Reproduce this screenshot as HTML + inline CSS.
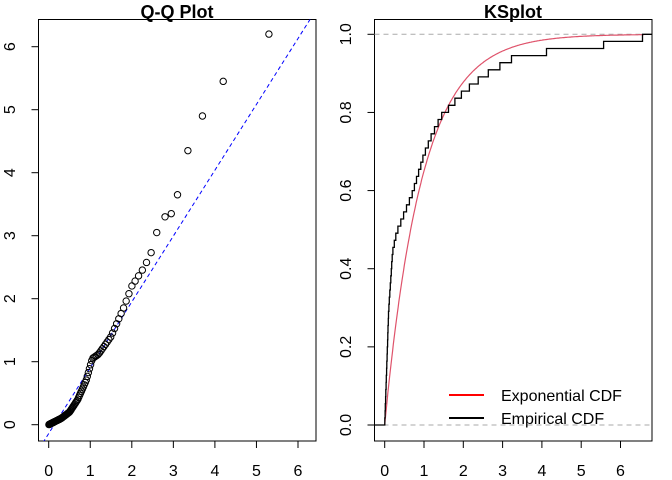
<!DOCTYPE html>
<html><head><meta charset="utf-8"><style>
body{margin:0;background:#fff}
svg{display:block;font-family:"Liberation Sans",Arial,sans-serif}
</style></head><body>
<svg id="s" width="672" height="480" viewBox="0 0 672 480" xmlns="http://www.w3.org/2000/svg">
<rect width="672" height="480" fill="#fff"/>
<defs>
<clipPath id="c1"><rect x="38.5" y="19.5" width="277.5" height="421.5"/></clipPath>
<clipPath id="c2"><rect x="374.5" y="19.5" width="277.5" height="421.5"/></clipPath>
</defs>
<text x="177" y="18" font-size="18" font-weight="bold" text-anchor="middle">Q-Q Plot</text>
<text x="513" y="18" font-size="18" font-weight="bold" text-anchor="middle">KSplot</text>
<rect x="38.5" y="19.5" width="277.5" height="421.5" fill="none" stroke="#000" stroke-width="1"/>
<rect x="374.5" y="19.5" width="277.5" height="421.5" fill="none" stroke="#000" stroke-width="1"/>
<g id="axes" stroke="#000" stroke-width="1" fill="none"></g>
<g id="labels" font-size="16" fill="#000"></g>
<g id="plot"></g>
<line x1="449" y1="395" x2="484" y2="395" stroke="#f00" stroke-width="2"/>
<line x1="449" y1="418" x2="484" y2="418" stroke="#000" stroke-width="2"/>
<text x="501" y="401" font-size="16">Exponential CDF</text>
<text x="501" y="424" font-size="16">Empirical CDF</text>
</svg>
<script>
var NS="http://www.w3.org/2000/svg";
function el(p,t,a,txt){var e=document.createElementNS(NS,t);for(var k in a)e.setAttribute(k,a[k]);if(txt!=null)e.textContent=txt;document.getElementById(p).appendChild(e);return e;}
var lx=function(v){return 48.7+41.55*v},ly=function(v){return 424.7-63*v};
var rx=function(v){return 384.7+39.3*v},ry=function(v){return 425-390.7*v};
el("axes","line",{x1:lx(0),y1:441,x2:lx(6),y2:441});
for(var i=0;i<=6;i++){el("axes","line",{x1:lx(i),y1:441,x2:lx(i),y2:448});el("labels","text",{x:lx(i),y:476,"text-anchor":"middle"},i);}
el("axes","line",{x1:38.5,y1:ly(0),x2:38.5,y2:ly(6)});
for(var i=0;i<=6;i++){var y=ly(i);el("axes","line",{x1:31.5,y1:y,x2:38.5,y2:y});el("labels","text",{x:0,y:0,"text-anchor":"middle",transform:"translate(15,"+y+") rotate(-90)"},i);}
el("axes","line",{x1:rx(0),y1:441,x2:rx(6),y2:441});
for(var i=0;i<=6;i++){el("axes","line",{x1:rx(i),y1:441,x2:rx(i),y2:448});el("labels","text",{x:rx(i),y:476,"text-anchor":"middle"},i);}
el("axes","line",{x1:374.5,y1:ry(0),x2:374.5,y2:ry(1)});
for(var i=0;i<=5;i++){var v=i*0.2,y=ry(v);el("axes","line",{x1:367.5,y1:y,x2:374.5,y2:y});el("labels","text",{x:0,y:0,"text-anchor":"middle",transform:"translate(351,"+y+") rotate(-90)"},v.toFixed(1));}
function interp(k,x){if(x<=k[0][0])return k[0][1];for(var i=1;i<k.length;i++){if(x<=k[i][0]){var a=k[i-1],b=k[i];return a[1]+(b[1]-a[1])*(x-a[0])/(b[0]-a[0]);}}return k[k.length-1][1];}
var g1=el("plot","g",{"clip-path":"url(#c1)"});
function add(g,t,a){var e=document.createElementNS(NS,t);for(var k in a)e.setAttribute(k,a[k]);g.appendChild(e);return e;}
add(g1,"line",{x1:lx(-0.5),y1:ly(-0.14-0.5225),x2:lx(7),y2:ly(-0.14+7.315),stroke:"#00f","stroke-width":1,"stroke-dasharray":"4,3"});
var qk=[[0,0],[0.3,0.1],[0.5,0.2],[0.7,0.4],[0.9,0.7],[1.05,1.05],[1.2,1.12],[1.5,1.4],[1.8,1.85],[2.0,2.2],[2.3,2.5],[2.5,2.78]];
for(var i=1;i<=92;i++){var q=-Math.log(1-(i-0.5)/100);add(g1,"circle",{cx:lx(q),cy:ly(interp(qk,q)),r:3.2,fill:"none",stroke:"#000","stroke-width":1});}
[[2.6,3.05],[2.8,3.3],[2.95,3.35],[3.1,3.65],[3.35,4.35],[3.7,4.9],[4.2,5.45],[5.3,6.2]].forEach(function(p){add(g1,"circle",{cx:lx(p[0]),cy:ly(p[1]),r:3.2,fill:"none",stroke:"#000","stroke-width":1});});
var g2=el("plot","g",{"clip-path":"url(#c2)"});
add(g2,"line",{x1:374.5,y1:ry(0),x2:652,y2:ry(0),stroke:"#aaa","stroke-dasharray":"5,4"});
add(g2,"line",{x1:374.5,y1:ry(1),x2:652,y2:ry(1),stroke:"#aaa","stroke-dasharray":"5,4"});
var d="";for(var x=0;x<=6.6;x+=0.02){d+=(x==0?"M":"L")+rx(x).toFixed(1)+" "+ry(1-Math.exp(-1.05*x)).toFixed(1);}
add(g2,"path",{d:d,fill:"none",stroke:"#df536b","stroke-width":1.2});
var fk=[[0.01,0],[0.15,0.05],[0.3,0.1],[0.45,0.2],[0.5,0.3],[0.55,0.5],[0.6,0.7],[0.65,0.85],[0.7,1.0],[0.75,1.2],[0.8,1.45],[0.82,1.64],[0.86,2.0],[0.9,2.49],[0.95,3.3],[0.97,4.5],[0.98,5.35],[0.99,6.56]];
var n=55,xs=[];for(var i=1;i<=n;i++){xs.push(interp(fk,i/n));}
xs[n-1]=6.56;
var pd="M"+rx(-0.4)+" "+ry(0);
for(var i=0;i<n;i++){pd+="H"+rx(xs[i]).toFixed(1)+"V"+ry((i+1)/n).toFixed(1);}
pd+="H"+rx(7);
add(g2,"path",{d:pd,fill:"none",stroke:"#000","stroke-width":1.3});
</script>
</body></html>
